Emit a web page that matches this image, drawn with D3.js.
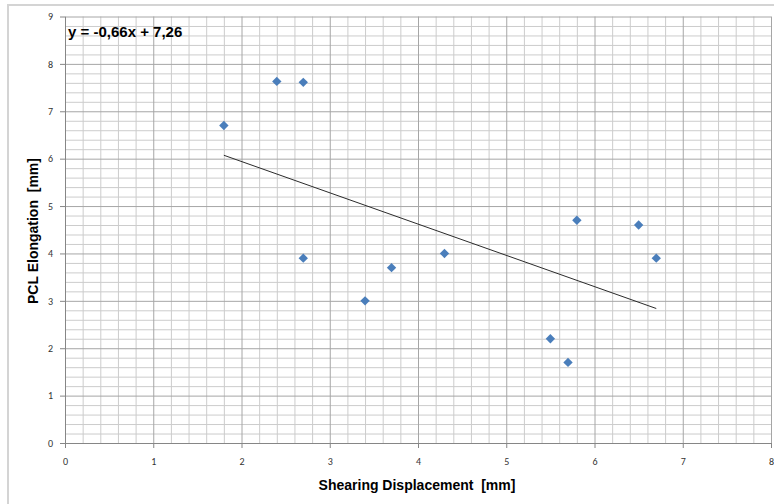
<!DOCTYPE html>
<html>

<head>
    <meta charset=utf-8 />
    <script src="https://cdn.jsdelivr.net/npm/d3@7"></script>
    <title>PCL elongation vs shearing displacement</title>
    <style>
        html,
        body {
            margin: 0;
            padding: 0;
            background: #fff;
        }

        svg {
            display: block;
            font-family: "Liberation Sans", sans-serif;
        }

        text {
            white-space: pre;
        }
    </style>
</head>

<body>
    <div id="svg-canvas"></div>
    <script>
        // data
        var displacement = [1.8, 2.4, 2.7, 2.7, 3.4, 3.7, 4.3, 5.5, 5.7, 5.8, 6.5, 6.7];
        var elongation = [6.7, 7.63, 7.61, 3.9, 3.0, 3.7, 4.0, 2.2, 1.7, 4.7, 4.6, 3.9];
        var trendCoef = [-0.66, 7.26];           // slope, intercept
        var xTicks = [0, 1, 2, 3, 4, 5, 6, 7, 8];
        var yTicks = [0, 1, 2, 3, 4, 5, 6, 7, 8, 9];
        var equationLabel = 'y = -0,66x + 7,26';
        var xTitle = 'Shearing Displacement  [mm]';
        var yTitle = 'PCL Elongation  [mm]';
    </script>
    <script>
        var W = 774, H = 504;
        var svg = d3.select('#svg-canvas').append('svg')
            .attr('width', W)
            .attr('height', H);

        // chart frame (only top and left edges visible)
        svg.append('path')
            .attr('d', 'M8,' + H + 'V5H' + W)
            .attr('fill', 'none')
            .attr('stroke', '#d4d4d4')
            .attr('stroke-width', 2);

        var x = d3.scaleLinear().domain([0, 8]).range([65, 771]);
        var y = d3.scaleLinear().domain([0, 9]).range([443, 16.5]);

        var g = svg.append('g');

        // minor grid, every 0.2
        var xMinor = d3.range(0, 8.001, 0.2).filter(v => Math.abs(v - Math.round(v)) > 0.01);
        var yMinor = d3.range(0, 9.001, 0.2).filter(v => Math.abs(v - Math.round(v)) > 0.01);

        g.append('g').call(d3.axisBottom(x).tickValues(xMinor).tickSize(-(y(0) - y(9))).tickFormat(''))
            .attr('transform', 'translate(0,' + y(0) + ')')
            .call(a => a.select('.domain').remove())
            .selectAll('line').attr('stroke', '#cccccc');

        g.append('g').call(d3.axisLeft(y).tickValues(yMinor).tickSize(-(x(8) - x(0))).tickFormat(''))
            .attr('transform', 'translate(' + x(0) + ',0)')
            .call(a => a.select('.domain').remove())
            .selectAll('line').attr('stroke', '#cccccc');

        // major grid
        g.append('g').call(d3.axisBottom(x).tickValues(xTicks).tickSize(-(y(0) - y(9))).tickFormat(''))
            .attr('transform', 'translate(0,' + y(0) + ')')
            .call(a => a.select('.domain').remove())
            .selectAll('line').attr('stroke', '#a6a6a6');

        g.append('g').call(d3.axisLeft(y).tickValues(yTicks).tickSize(-(x(8) - x(0))).tickFormat(''))
            .attr('transform', 'translate(' + x(0) + ',0)')
            .call(a => a.select('.domain').remove())
            .selectAll('line').attr('stroke', '#a6a6a6');

        // axes
        var axisX = g.append('g')
            .attr('transform', 'translate(0,' + y(0) + ')')
            .call(d3.axisBottom(x).tickValues(xTicks).tickSize(5).tickSizeOuter(0).tickPadding(10));

        var axisY = g.append('g')
            .attr('transform', 'translate(' + x(0) + ',0)')
            .call(d3.axisLeft(y).tickValues(yTicks).tickSize(5).tickSizeOuter(0).tickPadding(7));

        customAxis(axisX);
        customAxis(axisY);

        function customAxis(axis) {
            axis.select('.domain').attr('stroke', '#868686');
            axis.selectAll('line').attr('stroke', '#868686');
            axis.selectAll('text')
                .attr('fill', '#333')
                .style('font-size', '10px')
                .style('font-family', 'Carlito, "Liberation Sans", sans-serif');
        }

        // trend line
        var xMin = d3.min(displacement), xMax = d3.max(displacement);
        g.append('line')
            .attr('x1', x(xMin))
            .attr('y1', y(trendCoef[0] * xMin + trendCoef[1]))
            .attr('x2', x(xMax))
            .attr('y2', y(trendCoef[0] * xMax + trendCoef[1]))
            .attr('stroke', '#2b2b2b')
            .attr('stroke-width', 1);

        // points
        var diamond = d3.symbol().type(d3.symbolDiamond2).size(56);
        g.selectAll('.pt')
            .data(displacement.map((d, i) => [d, elongation[i]]))
            .enter().append('path')
            .attr('class', 'pt')
            .attr('d', diamond)
            .attr('transform', d => 'translate(' + x(d[0]) + ',' + y(d[1]) + ')')
            .attr('fill', '#4a7ebb');

        // equation label
        svg.append('text')
            .attr('x', 68)
            .attr('y', 37)
            .attr('font-size', 15)
            .attr('font-weight', 'bold')
            .attr('fill', '#000')
            .text(equationLabel);

        // axis titles
        svg.append('text')
            .attr('x', 417)
            .attr('y', 490)
            .attr('text-anchor', 'middle')
            .attr('font-size', 14)
            .attr('font-weight', 'bold')
            .text(xTitle);

        svg.append('text')
            .attr('transform', 'translate(38,231) rotate(-90)')
            .attr('text-anchor', 'middle')
            .attr('font-size', 14)
            .attr('font-weight', 'bold')
            .text(yTitle);
    </script>
</body>

</html>
